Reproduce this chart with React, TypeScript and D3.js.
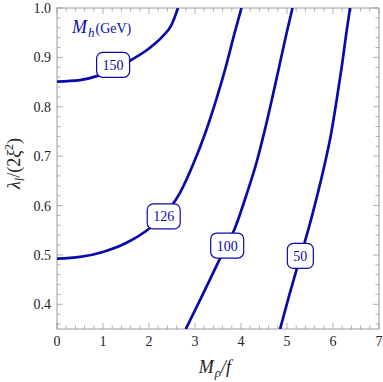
import * as d3 from "d3";
import { useRef, useEffect } from "react";

// contour lines: [M_rho/f, lambda_l/(2 xi^2)]
const c150 = [[0, 0.851], [0.5, 0.854], [0.9, 0.863], [1.2, 0.874], [1.6, 0.894], [2.0, 0.918], [2.3, 0.943], [2.49, 0.966], [2.63, 1.0]];
const c126 = [[0, 0.4925], [0.5, 0.496], [1.0, 0.506], [1.5, 0.524], [2.0, 0.553], [2.3, 0.578], [2.67, 0.625], [2.98, 0.688], [3.22, 0.746], [3.46, 0.814], [3.67, 0.881], [3.86, 0.949], [4.01, 1.0]];
const c100 = [[2.8, 0.35], [3.18, 0.422], [3.54, 0.492], [3.88, 0.557], [4.13, 0.625], [4.34, 0.688], [4.5, 0.746], [4.67, 0.814], [4.83, 0.881], [4.99, 0.949], [5.12, 1.0]];
const c50 = [[4.85, 0.35], [5.06, 0.422], [5.27, 0.49], [5.48, 0.557], [5.67, 0.625], [5.83, 0.688], [5.96, 0.746], [6.08, 0.814], [6.19, 0.881], [6.29, 0.949], [6.37, 1.0]];

const levels = ["150", "126", "100", "50"];
const labelX = [1.22, 2.32, 3.7, 5.29];
const labelY = [0.885, 0.578, 0.519, 0.498];

const xTicks = [0, 1, 2, 3, 4, 5, 6, 7];
const yTicks = [0.4, 0.5, 0.6, 0.7, 0.8, 0.9, 1.0];

export default function App() {
  const ref = useRef(null);

  useEffect(() => {
    const width = 383;
    const height = 382;
    const m = { left: 57, top: 8, right: 4, bottom: 53 };
    const blue = "#0a0aaa";
    const frame = "#9a9a9a";
    const serif = "'Liberation Serif', 'DejaVu Serif', serif";

    const svg = d3.select(ref.current);
    svg.selectAll("*").remove();
    svg.attr("width", width).attr("height", height);

    const x = d3.scaleLinear().domain([0, 7]).range([m.left, width - m.right]);
    const y = d3.scaleLinear().domain([0.35, 1.0]).range([height - m.bottom, m.top]);

    svg.append("clipPath").attr("id", "plotclip")
      .append("rect")
      .attr("x", x(0)).attr("y", y(1))
      .attr("width", x(7) - x(0)).attr("height", y(0.35) - y(1));

    // frame
    svg.append("rect")
      .attr("x", x(0)).attr("y", y(1))
      .attr("width", x(7) - x(0)).attr("height", y(0.35) - y(1))
      .attr("fill", "none").attr("stroke", frame).attr("stroke-width", 1);

    // ticks on all four sides, pointing inward
    const xMinor = d3.range(0, 7.001, 0.2);
    const yMinor = d3.range(0.36, 1.001, 0.02);
    const tg = svg.append("g").attr("stroke", frame).attr("stroke-width", 0.8);
    xMinor.forEach(v => {
      const major = Math.abs(v - Math.round(v)) < 1e-6;
      const len = major ? 6 : 3.5;
      tg.append("line").attr("x1", x(v)).attr("x2", x(v)).attr("y1", y(0.35)).attr("y2", y(0.35) - len);
      tg.append("line").attr("x1", x(v)).attr("x2", x(v)).attr("y1", y(1)).attr("y2", y(1) + len);
    });
    yMinor.forEach(v => {
      const major = Math.abs(v * 10 - Math.round(v * 10)) < 1e-6;
      const len = major ? 6 : 3.5;
      tg.append("line").attr("x1", x(0)).attr("x2", x(0) + len).attr("y1", y(v)).attr("y2", y(v));
      tg.append("line").attr("x1", x(7)).attr("x2", x(7) - len).attr("y1", y(v)).attr("y2", y(v));
    });

    // tick labels
    svg.append("g").selectAll("text").data(xTicks).enter().append("text")
      .attr("x", d => x(d)).attr("y", y(0.35) + 17)
      .attr("text-anchor", "middle")
      .style("font-family", serif).style("font-size", "14px").attr("fill", "#222")
      .text(d => d);
    svg.append("g").selectAll("text").data(yTicks).enter().append("text")
      .attr("x", x(0) - 6).attr("y", d => y(d) + 5)
      .attr("text-anchor", "end")
      .style("font-family", serif).style("font-size", "14px").attr("fill", "#222")
      .text(d => d.toFixed(1));

    // contours
    const line = d3.line().x(d => x(d[0])).y(d => y(d[1])).curve(d3.curveMonotoneX);
    const g = svg.append("g").attr("clip-path", "url(#plotclip)");
    [c150, c126, c100, c50].forEach(c => {
      g.append("path").attr("d", line(c))
        .attr("fill", "none").attr("stroke", blue).attr("stroke-width", 2.7)
        .attr("stroke-linejoin", "round");
    });

    // contour labels
    levels.forEach((lab, i) => {
      const w = lab.length === 2 ? 26 : 33;
      const h = 25;
      const cx = x(labelX[i]);
      const cy = y(labelY[i]);
      g.append("rect")
        .attr("x", cx - w / 2).attr("y", cy - h / 2)
        .attr("width", w).attr("height", h).attr("rx", 6)
        .attr("fill", "white").attr("stroke", blue).attr("stroke-width", 1.2);
      g.append("text")
        .attr("x", cx).attr("y", cy + 5)
        .attr("text-anchor", "middle")
        .style("font-family", serif).style("font-size", "14px").attr("fill", blue)
        .text(lab);
    });

    // in-plot title
    const title = svg.append("text").attr("x", 72).attr("y", 33)
      .style("font-family", serif).attr("fill", blue);
    title.append("tspan").style("font-size", "18px").style("font-style", "italic").text("M");
    title.append("tspan").style("font-size", "13px").style("font-style", "italic").attr("dx", 1).attr("dy", 4).text("h");
    title.append("tspan").style("font-size", "14px").attr("dx", 1).attr("dy", -4).text("(GeV)");

    // axis titles
    const xt = svg.append("text").attr("x", 215).attr("y", 373)
      .attr("text-anchor", "middle")
      .style("font-family", serif).style("font-style", "italic").attr("fill", "#222");
    xt.append("tspan").style("font-size", "18px").text("M");
    xt.append("tspan").style("font-size", "13px").attr("dx", 1).attr("dy", 4).text("ρ");
    xt.append("tspan").style("font-size", "18px").attr("dy", -4).text("/f");

    const yt = svg.append("text")
      .attr("transform", `translate(20, ${(y(0.35) + y(1)) / 2 - 5}) rotate(-90)`)
      .attr("text-anchor", "middle")
      .style("font-family", serif).attr("fill", "#222");
    yt.append("tspan").style("font-size", "18px").style("font-style", "italic").text("λ");
    yt.append("tspan").style("font-size", "12px").style("font-style", "italic").attr("dy", 4).text("l");
    yt.append("tspan").style("font-size", "18px").attr("dy", -4).text("/(2");
    yt.append("tspan").style("font-size", "18px").style("font-style", "italic").text("ξ");
    yt.append("tspan").style("font-size", "12px").attr("dy", -7).text("2");
    yt.append("tspan").style("font-size", "18px").attr("dy", 7).text(")");
  }, []);

  return <svg ref={ref} style={{ display: "block", position: "absolute", left: 0, top: 0 }}></svg>;
}
